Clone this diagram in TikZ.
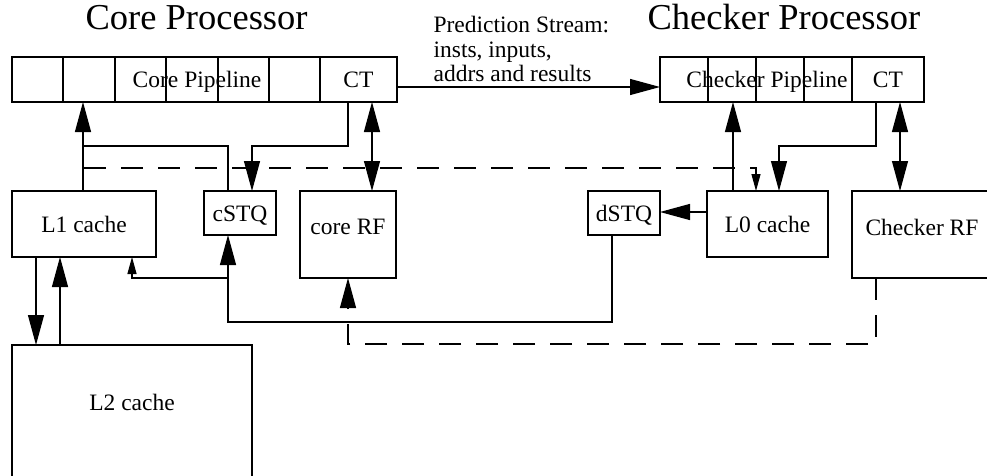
\documentclass[tikz,border=0pt]{standalone}
\usepackage{fontspec}
\setmainfont{Liberation Serif}
\usetikzlibrary{arrows.meta}

\begin{document}
\begin{tikzpicture}[x=1pt, y=-1pt, line width=1.2pt,
  box/.style={draw, rectangle, inner sep=0pt, outer sep=0pt,
    font=\fontsize{23.5}{26}\selectfont, text height=16pt, text depth=0pt},
  cell/.style={box, minimum height=45pt, anchor=north west},
  lbl/.style={inner sep=0pt, font=\fontsize{23.5}{26}\selectfont, text height=16pt, text depth=0pt},
  title/.style={inner sep=0pt, anchor=base west, font=\fontsize{36.5}{40}\selectfont},
  arr/.style={-{Triangle[length=30pt, width=16pt]}},
  biarr/.style={{Triangle[length=30pt, width=16pt]}-{Triangle[length=30pt, width=16pt]}},
  smallarr/.style={-{Triangle[length=17pt, width=9pt]}},
  dashline/.style={dash pattern=on 22pt off 15pt},
]
\clip (0,0) rectangle (987,476);
\fill[white] (0,0) rectangle (987,476);

% titles
\node[title] (coretitle) at (85,30) {Core Processor};
\node[title] (chktitle) at (647,30) {Checker Processor};

% core pipeline stages
\node[cell, minimum width=51pt] (c1) at (12,57) {};
\node[cell, minimum width=52pt] (c2) at (63,57) {};
\node[cell, minimum width=51pt] (c3) at (115,57) {};
\node[cell, minimum width=52pt] (c4) at (166,57) {};
\node[cell, minimum width=51pt] (c5) at (218,57) {};
\node[cell, minimum width=51pt] (c6) at (269,57) {};
\node[cell, minimum width=77pt] (ct1) at (320,57) {CT};
\node[lbl] (cplabel) at (197,79.5) {Core Pipeline};

% checker pipeline stages
\node[cell, minimum width=48pt] (k1) at (660,57) {};
\node[cell, minimum width=48pt] (k2) at (708,57) {};
\node[cell, minimum width=48pt] (k3) at (756,57) {};
\node[cell, minimum width=48pt] (k4) at (804,57) {};
\node[cell, minimum width=72pt] (kct) at (852,57) {CT};
\node[lbl] (kplabel) at (767,79.5) {Checker Pipeline};

% prediction stream (base anchor sits on the last line)
\node[inner sep=0pt, anchor=base west, align=left, font=\fontsize{23.5}{24.5}\selectfont]
  (pstream) at (433,82) {Prediction Stream:\\insts, inputs,\\addrs and results};
\coordinate (p1) at (0,87);
\draw[arr] (ct1.east |- p1) -- (k1.west |- p1);

% storage blocks
\node[box, anchor=north west, minimum width=144pt, minimum height=66pt] (l1) at (12,191) {L1 cache};
\node[box, anchor=north west, minimum width=72pt, minimum height=44pt] (cstq) at (204,191) {cSTQ};
\node[box, anchor=north west, minimum width=96pt, minimum height=87pt, text depth=17pt] (crf) at (300,191) {core RF};
\node[box, anchor=north west, minimum width=72pt, minimum height=44pt] (dstq) at (588,191) {dSTQ};
\node[box, anchor=north west, minimum width=121pt, minimum height=66pt] (l0) at (707,191) {L0 cache};
\node[box, anchor=north west, minimum width=140pt, minimum height=87pt, text depth=15pt] (chrf) at (852,191) {Checker RF};
\node[box, anchor=north west, minimum width=240pt, minimum height=151pt, text depth=37pt] (l2) at (12,345) {L2 cache};

% core side connections
\coordinate (a1) at (83,146);
\coordinate (a2) at (228,146);
\coordinate (a3) at (348,146);
\coordinate (a4) at (252,146);
\coordinate (a5) at (372,146);
\draw[arr] (l1.north -| a1) -- (c2.south -| a1);
\draw (a1) -- (a2) -- (cstq.north -| a2);
\draw[arr] (ct1.south -| a3) -- (a3) -| (cstq.north -| a4);
\draw[biarr] (ct1.south -| a5) -- (crf.north -| a5);

% checker side connections
\coordinate (b1) at (733,146);
\coordinate (b2) at (876,146);
\coordinate (b3) at (779,146);
\coordinate (b4) at (900,146);
\draw[arr] (l0.north -| b1) -- (k2.south -| b1);
\draw[arr] (kct.south -| b2) -- (b2) -| (l0.north -| b3);
\draw[biarr] (kct.south -| b4) -- (chrf.north -| b4);

% dashed path into the L0 cache
\coordinate (d1) at (84,168);
\coordinate (d2) at (756,168);
\draw[dashline, smallarr] (d1) -| (l0.north -| d2);

% L0 to dSTQ
\coordinate (e1) at (0,212);
\draw[arr] (l0.west |- e1) -- (dstq.east |- e1);

% dSTQ back to cSTQ and the L1 cache
\coordinate (f1) at (228,322);
\coordinate (f2) at (612,322);
\coordinate (f3) at (132,278);
\coordinate (f4) at (228,278);
\draw[arr] (dstq.south -| f2) -- (f2) -- (f1) -- (cstq.south -| f1);
\draw[smallarr] (f4) -- (f3) -- (l1.south -| f3);

% checker RF back to core RF
\coordinate (g1) at (876,344);
\coordinate (g2) at (348,344);
\draw[dashline, arr] (chrf.south -| g1) -- (g1) -- (g2) -- (crf.south -| g2);

% L1 <-> L2
\coordinate (h1) at (36,300);
\coordinate (h2) at (60,300);
\draw[arr] (l1.south -| h1) -- (l2.north -| h1);
\draw[arr] (l2.north -| h2) -- (l1.south -| h2);
\end{tikzpicture}
\end{document}
